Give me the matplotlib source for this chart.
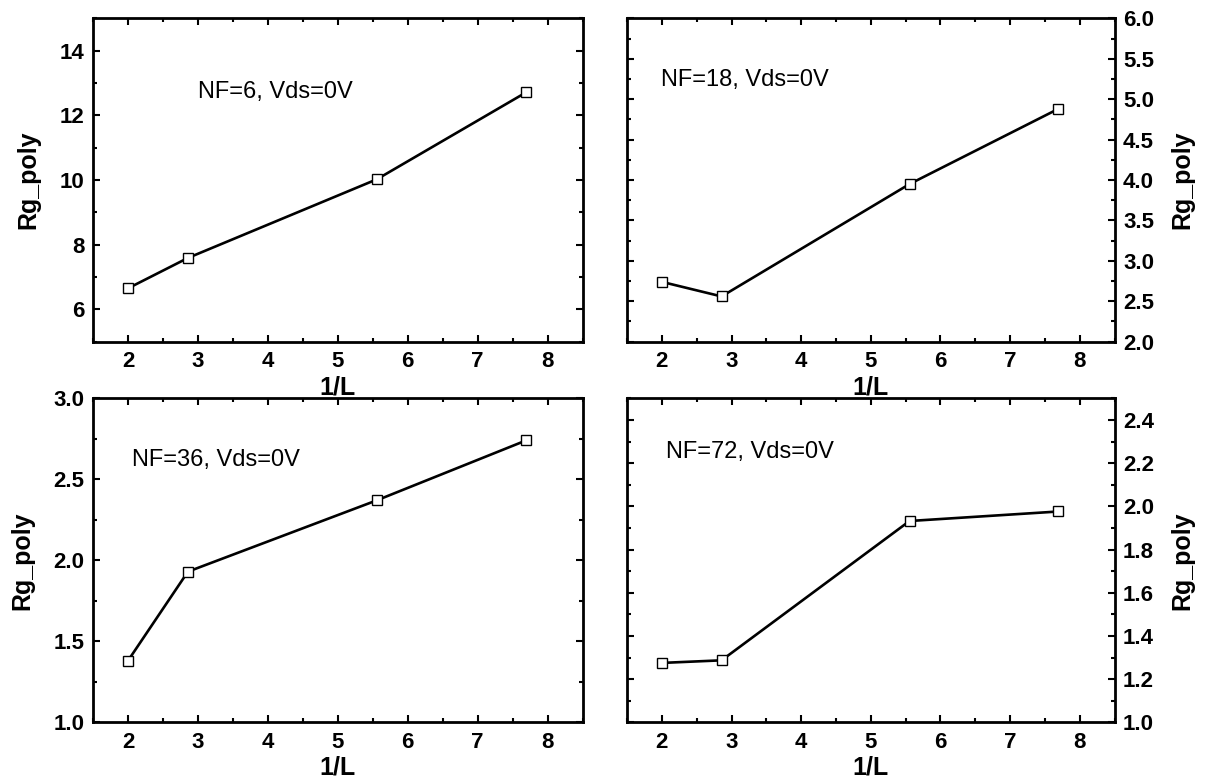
import matplotlib.pyplot as plt
from matplotlib.ticker import MultipleLocator

plt.rcParams['font.family'] = ['Liberation Sans', 'DejaVu Sans']

# 1/L values (L in um: 0.5, 0.35, 0.18, 0.13)
inv_L = [2.0, 2.857, 5.556, 7.692]

rg_nf6 = [6.65, 7.59, 10.02, 12.71]
rg_nf18 = [2.74, 2.56, 3.95, 4.88]
rg_nf36 = [1.38, 1.93, 2.37, 2.74]
rg_nf72 = [1.275, 1.287, 1.932, 1.976]

labels = ['NF=6, Vds=0V', 'NF=18, Vds=0V', 'NF=36, Vds=0V', 'NF=72, Vds=0V']

fig = plt.figure(figsize=(12.11, 7.83), dpi=100)

# panel: (rect, data, ylim, major, minor, right side, text pos)
panels = [
    ([0.0768, 0.5636, 0.4043, 0.4130], rg_nf6, (5, 15), 2, 1, False, (0.215, 0.771)),
    ([0.5178, 0.5636, 0.4026, 0.4130], rg_nf18, (2, 6), 0.5, 0.25, True, (0.070, 0.809)),
    ([0.0768, 0.0775, 0.4043, 0.4138], rg_nf36, (1, 3), 0.5, 0.25, False, (0.080, 0.810)),
    ([0.5178, 0.0775, 0.4026, 0.4138], rg_nf72, (1, 2.5), 0.2, 0.1, True, (0.079, 0.835)),
]

for (rect, ys, ylim, major, minor, right, tpos), lab in zip(panels, labels):
    ax = fig.add_axes(rect)
    ax.plot(inv_L, ys, color='black', lw=1.9, marker='s', ms=7.5,
            mfc='white', mec='black', mew=1.0)
    ax.set_xlim(1.5, 8.5)
    ax.set_ylim(*ylim)
    ax.xaxis.set_major_locator(MultipleLocator(1))
    ax.xaxis.set_minor_locator(MultipleLocator(0.5))
    ax.yaxis.set_major_locator(MultipleLocator(major))
    ax.yaxis.set_minor_locator(MultipleLocator(minor))
    if major < 1:
        ax.yaxis.set_major_formatter(plt.FormatStrFormatter('%.1f'))
    ax.tick_params(which='both', direction='in', top=True, right=True,
                   width=1.5, labelsize=16)
    ax.tick_params(axis='x', which='major', pad=7)
    ax.tick_params(axis='y', which='major', pad=6)
    ax.tick_params(which='major', length=5)
    ax.tick_params(which='minor', length=3)
    for sp in ax.spines.values():
        sp.set_linewidth(2.0)
    if right:
        ax.yaxis.tick_right()
        ax.yaxis.set_label_position('right')
        ax.tick_params(which='both', left=True)
    for t in ax.xaxis.get_major_ticks() + ax.yaxis.get_major_ticks():
        t.label1.set_fontweight('bold')
        t.label2.set_fontweight('bold')
    ax.set_xlabel('1/L', fontsize=18, fontweight='bold', labelpad=2)
    ax.set_ylabel('Rg_poly', fontsize=18, fontweight='bold',
                  labelpad=12 if right else 14)
    ax.text(tpos[0], tpos[1], lab, transform=ax.transAxes, fontsize=17,
            ha='left', va='center')

fig.savefig('out.png', dpi=100)
